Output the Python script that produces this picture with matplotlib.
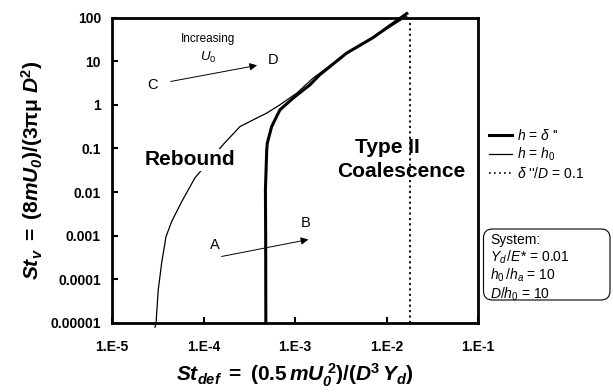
import numpy as np
import matplotlib
matplotlib.use('Agg')
import matplotlib.pyplot as plt
from matplotlib.lines import Line2D
from matplotlib.patches import FancyBboxPatch

plt.rcParams.update({
    'font.family': 'Liberation Sans',
    'mathtext.fontset': 'custom',
    'mathtext.rm': 'Liberation Sans',
    'mathtext.it': 'Liberation Sans:italic',
    'mathtext.bf': 'Liberation Sans:bold',
    'mathtext.bfit': 'Liberation Sans:bold:italic',
    'mathtext.sf': 'Liberation Sans',
})

# h = h0 curve (thin)
thin_x = [2.95e-5, 3.03e-5, 3.2e-5, 3.49e-5, 3.89e-5, 4.48e-5, 5.78e-5, 8.07e-5,
          1.63e-4, 2.51e-4, 3.5e-4, 4.91e-4, 6.85e-4, 1.045e-3, 1.58e-3, 1.87e-3,
          3.67e-3, 7.1e-3, 0.0166]
thin_y = [8.0e-6, 1.0e-5, 5.7e-5, 2.38e-4, 9.5e-4, 2.1e-3, 6.05e-3, 0.0212,
          0.121, 0.318, 0.453, 0.646, 1.0, 1.85, 4.1, 5.3,
          15.3, 34.4, 106]

# h = delta'' curve (thick)
thick_x = [4.8e-4, 4.78e-4, 4.75e-4, 4.91e-4, 4.98e-4, 5.56e-4, 6.85e-4, 9.57e-4,
           1.46e-3, 1.87e-3, 3.67e-3, 7.1e-3, 0.0172]
thick_y = [1.0e-5, 1e-3, 0.0112, 0.093, 0.132, 0.318, 0.767, 1.43,
           2.88, 4.9, 15.3, 34.4, 129]

# delta''/D = 0.1 limit
limit_x = 0.018

xticks = [1e-5, 1e-4, 1e-3, 1e-2, 1e-1]
xtick_labels = ['1.E-5', '1.E-4', '1.E-3', '1.E-2', '1.E-1']
yticks = [1e-5, 1e-4, 1e-3, 1e-2, 1e-1, 1, 10, 100]
ytick_labels = ['0.00001', '0.0001', '0.001', '0.01', '0.1', '1', '10', '100']

fig = plt.figure(figsize=(6.13, 3.92), dpi=100)
ax = fig.add_axes([112 / 613, 1 - 323 / 392, 366 / 613, 305.5 / 392])

ax.plot(thick_x, thick_y, color='black', lw=2.2, clip_on=False, solid_capstyle='butt')
ax.plot(thin_x, thin_y, color='black', lw=0.9, clip_on=False)
ax.plot([limit_x, limit_x], [1e-5, 100], color='black', lw=1.3, linestyle=(0, (1.2, 1.8)))

ax.set_xscale('log')
ax.set_yscale('log')
ax.set_xlim(1e-5, 1e-1)
ax.set_ylim(1e-5, 100)
ax.set_xticks(xticks)
ax.set_xticklabels(xtick_labels)
ax.set_yticks(yticks)
ax.set_yticklabels(ytick_labels)
ax.minorticks_off()
ax.tick_params(axis='both', direction='in', length=4, width=1.5, labelsize=10)
ax.tick_params(axis='x', pad=12)
ax.tick_params(axis='y', pad=8)
for lbl in ax.get_xticklabels() + ax.get_yticklabels():
    lbl.set_fontweight('bold')
for sp in ax.spines.values():
    sp.set_linewidth(2)

ax.set_xlabel(r'$\mathbfit{St}_{\mathbfit{def}}\mathbf{\ =\ (0.5\,}\mathbfit{mU}_{\mathbfit{0}}^{\mathbf{\ 2}}'
              r'\mathbf{)/(}\mathbfit{D}^{\mathbf{3}}\,\mathbfit{Y}_{\mathbfit{d}}\mathbf{)}$',
              fontsize=15, labelpad=6)
ax.set_ylabel(r'$\mathbfit{St}_{\mathbfit{v}}\mathbf{\ =\ (8}\mathbfit{mU}_{\mathbfit{0}}'
              r'\mathbf{)/(3\pi\mu\ }\mathbfit{D}^{\mathbf{2}}\mathbf{)}$',
              fontsize=15, labelpad=4)

# region labels
ax.text(0.213, 0.534, 'Rebound', transform=ax.transAxes, fontsize=15, fontweight='bold',
        ha='center', va='center', bbox=dict(fc='white', ec='none', pad=1))
ax.text(0.752, 0.573, 'Type II', transform=ax.transAxes, fontsize=15, fontweight='bold',
        ha='center', va='center')
ax.text(0.79, 0.495, 'Coalescence', transform=ax.transAxes, fontsize=15, fontweight='bold',
        ha='center', va='center')

# direction arrows
ax.text(0.262, 0.93, 'Increasing', transform=ax.transAxes, fontsize=8.5, ha='center', va='center')
ax.text(0.262, 0.868, r'$U_{\mathit{0}}$', transform=ax.transAxes, fontsize=9.5, ha='center', va='center')
ax.text(0.112, 0.779, 'C', transform=ax.transAxes, fontsize=10.5, ha='center', va='center')
ax.text(0.44, 0.861, 'D', transform=ax.transAxes, fontsize=10.5, ha='center', va='center')
ax.annotate('', xy=(0.404, 0.845), xytext=(0.153, 0.789), xycoords='axes fraction',
            arrowprops=dict(arrowstyle='-|>', lw=0.7, color='black', mutation_scale=11))
ax.text(0.281, 0.255, 'A', transform=ax.transAxes, fontsize=10.5, ha='center', va='center')
ax.text(0.530, 0.327, 'B', transform=ax.transAxes, fontsize=10.5, ha='center', va='center')
ax.annotate('', xy=(0.544, 0.275), xytext=(0.292, 0.216), xycoords='axes fraction',
            arrowprops=dict(arrowstyle='-|>', lw=0.7, color='black', mutation_scale=11))

# legend
handles = [
    Line2D([], [], color='black', lw=2.2),
    Line2D([], [], color='black', lw=0.9),
    Line2D([], [], color='black', lw=1.2, linestyle=(0, (1, 2))),
]
labels = [r"$h$ = $\delta$ ''", r"$h$ = $h_{\mathit{0}}$", r"$\delta$ ''/$D$ = 0.1"]
fig.legend(handles, labels, loc='upper left', bbox_to_anchor=(483 / 613, 1 - 122 / 392),
           frameon=False, fontsize=10, handlelength=1.7, handletextpad=0.35,
           labelspacing=0.22, borderaxespad=0)

# system box
fig.add_artist(FancyBboxPatch((4.835, 0.92), 1.265, 0.71, transform=fig.dpi_scale_trans,
                              boxstyle='round,pad=0,rounding_size=0.09',
                              fc='white', ec='black', lw=0.8))
fig.text(490 / 613, 1 - 268 / 392,
         'System:\n$Y_{\\mathit{d}}\\,/E$* = 0.01\n$h_{\\mathit{0}}\\,/h_{\\mathit{a}}$ = 10\n$D/h_{\\mathit{0}}$ = 10',
         fontsize=10, ha='left', va='center', linespacing=1.12)

fig.savefig('out.png', dpi=100)
